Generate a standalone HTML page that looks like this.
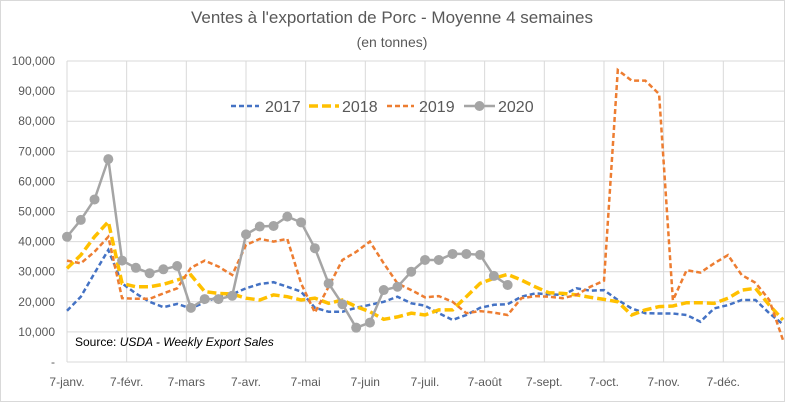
<!DOCTYPE html>
<html><head><meta charset="utf-8">
<style>
body{margin:0;background:#fff;}
svg{display:block;font-family:"Liberation Sans",sans-serif;}
</style></head>
<body>
<svg id="chart" width="785" height="402" viewBox="0 0 785 402" xmlns="http://www.w3.org/2000/svg">
<rect x="0.5" y="0.5" width="784" height="401" fill="#fff" stroke="#d9d9d9"/>
<text x="392" y="23" text-anchor="middle" font-size="17" fill="#595959">Ventes à l'exportation de Porc - Moyenne 4 semaines</text>
<text x="392" y="47" text-anchor="middle" font-size="14" fill="#595959">(en tonnes)</text>
<g id="grid"></g>
<g id="yticks"></g>
<g id="xticks"></g>
<g id="series"></g>
<g id="legend">
  <line x1="231" y1="106" x2="259" y2="106" stroke="#4472c4" stroke-width="2.5" stroke-dasharray="5,3"/>
  <text x="265" y="112" font-size="16" fill="#595959">2017</text>
  <line x1="309" y1="106" x2="339" y2="106" stroke="#ffc000" stroke-width="3.5" stroke-dasharray="9,4"/>
  <text x="342" y="112" font-size="16" fill="#595959">2018</text>
  <line x1="387" y1="106" x2="414" y2="106" stroke="#ed7d31" stroke-width="2.5" stroke-dasharray="5,3"/>
  <text x="419" y="112" font-size="16" fill="#595959">2019</text>
  <line x1="464" y1="106" x2="495" y2="106" stroke="#a5a5a5" stroke-width="2.5"/>
  <circle cx="479.5" cy="106" r="5" fill="#a5a5a5"/>
  <text x="498" y="112" font-size="16" fill="#595959">2020</text>
</g>
<text x="75" y="346" font-size="12" fill="#000">Source: <tspan font-style="italic">USDA - Weekly Export Sales</tspan></text>
</svg>
<script>
const monthLabels=["7-janv.","7-févr.","7-mars","7-avr.","7-mai","7-juin","7-juil.","7-août","7-sept.","7-oct.","7-nov.","7-déc."];
const yTicks=[0,10000,20000,30000,40000,50000,60000,70000,80000,90000,100000];
const s2017=[17,21.7,29.5,37.2,26.1,22.8,20,18.2,19.3,17.8,19.8,21.7,22.5,24.5,25.9,26.5,25,23.4,18,16.7,16.7,18,19,20,21.7,19.5,18.7,16.2,14,15.6,18,19,19.2,21.7,22.8,22.5,22.3,24.5,23.7,23.9,20.6,17.8,16.2,16.1,16.1,15.6,13.4,17.8,18.9,20.6,20.6,16.2,12.5];
const s2018=[31.1,35.5,41.6,46.6,26.1,25,25,25.8,27.2,28.9,23.4,22.8,22.6,21.2,20.6,22.3,21.7,20.6,21.2,19.5,20.6,18.4,16.7,14.2,15,16.2,15.6,17.3,17.3,21.7,26.1,27.8,29.1,27.2,25,23,22.8,22.3,21.5,20.8,20,15.6,17.3,18.4,18.6,19.7,19.7,19.5,21.2,23.9,24.5,18.9,14];
const s2019=[33.7,32.8,36.6,41.6,21.2,21,21,22.8,24.5,31.3,33.7,31.7,28.9,38.9,40.9,40,40.9,26.1,16.4,25,33.9,36.6,40,32.8,26.1,23.9,21.5,21.9,20,16.2,16.9,16.4,15.6,21.2,21.9,21.7,21.2,22.3,25,27,97,93.5,93.5,89,20.5,30.5,29.7,32.8,35.5,28.9,26.3,20.6,7.3];
const s2020=[41.6,47.2,54,67.4,33.7,31.3,29.5,30.8,31.9,18,20.9,20.9,22,42.4,45,45.2,48.3,46.4,37.8,26.1,19.2,11.4,13.1,23.9,25,30,33.9,33.9,35.9,35.9,35.6,28.6,25.6];

const NS="http://www.w3.org/2000/svg";
const X0=67,WK=13.77,MON=60.0,Y0=362,YTOP=61;
function xw(i){return X0+i*WK;}
function xm(m){return X0+m*(52*WK/12)*0.9999;}
function yv(kt){return Y0-(kt*1000)/100000*(Y0-YTOP);}
function mk(tag,attrs,parent){const e=document.createElementNS(NS,tag);for(const k in attrs)e.setAttribute(k,attrs[k]);parent.appendChild(e);return e;}
const grid=document.getElementById('grid'),yt=document.getElementById('yticks'),xt=document.getElementById('xticks'),ser=document.getElementById('series');
yTicks.forEach(v=>{
  const y=yv(v/1000);
  const l=mk('line',{x1:X0,x2:785,y1:y,y2:y,stroke:'#d9d9d9','stroke-width':1},grid);
  
  
  const t=mk('text',{x:55,y:y+4,'text-anchor':'end','font-size':12,fill:'#595959'},yt);
  t.textContent=v===0?'-':v.toLocaleString('en-US');
  
  
});
monthLabels.forEach((m,i)=>{
  const x=xm(i);
  const l=mk('line',{x1:x,x2:x,y1:YTOP,y2:Y0,stroke:'#d9d9d9','stroke-width':1},grid);
  
  
  const t=mk('text',{x:x,y:386,'text-anchor':'middle','font-size':12,fill:'#595959'},xt);
  t.textContent=m;
  
  
});
function pathFor(arr){return arr.map((v,i)=>(i?'L':'M')+xw(i).toFixed(1)+','+yv(v).toFixed(1)).join(' ');}
const p17=mk('path',{d:pathFor(s2017),fill:'none',stroke:'#4472c4','stroke-width':2.5,'stroke-dasharray':'5,3'},ser);


const p18=mk('path',{d:pathFor(s2018),fill:'none',stroke:'#ffc000','stroke-width':3.5,'stroke-dasharray':'9,4'},ser);


const p19=mk('path',{d:pathFor(s2019),fill:'none',stroke:'#ed7d31','stroke-width':2.5,'stroke-dasharray':'5,3'},ser);


const p20=mk('path',{d:pathFor(s2020),fill:'none',stroke:'#a5a5a5','stroke-width':2.5},ser);


s2020.forEach((v,i)=>{
  const c=mk('circle',{cx:xw(i),cy:yv(v),r:5,fill:'#a5a5a5'},ser);
  
  
});
</script>
</body></html>
